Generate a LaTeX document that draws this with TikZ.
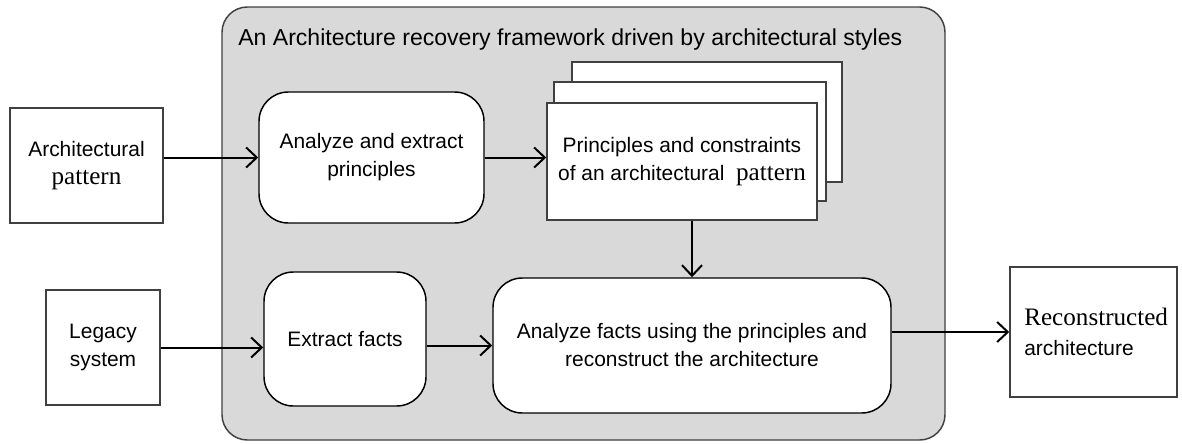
\documentclass[tikz,border=0pt]{standalone}
\usepackage{fontspec}
\setmainfont{Liberation Sans}
\newfontfamily\serifft[Scale=1.2]{Liberation Serif}
\usetikzlibrary{arrows.meta,fit}
\definecolor{panel}{HTML}{D9D9D9}
\definecolor{edge}{HTML}{404040}
\begin{document}
\begin{tikzpicture}[x=0.75pt,y=-0.75pt,
  every node/.style={font=\fontsize{15.7}{21}\selectfont, align=center, inner sep=0pt},
  sqbox/.style={draw=edge, line width=1.1pt, fill=white},
  rbox/.style={draw=black, line width=1.1pt, fill=white, rounded corners=22pt},
  arr/.style={line width=1.5pt, -{Straight Barb[length=8pt,width=15pt,line width=1.5pt]}}]
\useasboundingbox (0,0) rectangle (1182,443);
% frame
\node[fit={(222,7) (945,440)}, draw=edge, line width=1.1pt, fill=panel, rounded corners=19pt] (frame) {};
\node[anchor=base west, font=\fontsize{17.3}{21}\selectfont] (title) at (238,45) {An Architecture recovery framework driven by architectural styles};
% left inputs
\node[sqbox, fit={(10,108) (163,223)}] (ap) {};
\node (aptext) at (ap.center) {Architectural\\{\serifft pattern}};
\node[sqbox, fit={(46,290) (160,405)}] (ls) {};
\node (lstext) at (ls.center) {Legacy\\system};
% inner boxes
\node[rbox, fit={(259,92) (484,223)}] (ae) {};
\node (aetext) at (ae.center) {Analyze and extract\\principles};
\node[rbox, fit={(264,272) (426,406)}] (ef) {};
\node (eftext) at (ef.center) {Extract facts};
\node[rbox, fit={(493,278) (891,413)}] (af) {};
\node (aftext) at (af.center) {Analyze facts using the principles and\\reconstruct the architecture};
% stacked documents
\node[sqbox, fit={(572,62) (842,182)}] (pc3) {};
\node[sqbox, fit={(554,82) (826,201)}] (pc2) {};
\node[sqbox, fit={(547,103) (817,220)}] (pc) {};
\node (pctext) at (pc.center) {Principles and constraints\\of an architectural\ \ {\serifft pattern}};
% output
\node[sqbox, fit={(1010,267) (1177,397)}] (rc) {};
\node[align=left] (rctext) at ([xshift=2]rc.center) {{\serifft Reconstructed}\\[2pt]architecture};
% arrows
\draw[arr] (ap.east |- ae.west) -- (ae.west);
\draw[arr] (ae.east) -- (pc.west |- ae.east);
\draw[arr] (af.north |- pc.south) -- (af.north);
\draw[arr] (ls.east) -- (ef.west |- ls.east);
\draw[arr] (ef.east |- af.west) -- (af.west);
\draw[arr] (af.east |- rc.west) -- (rc.west);
\end{tikzpicture}
\end{document}
